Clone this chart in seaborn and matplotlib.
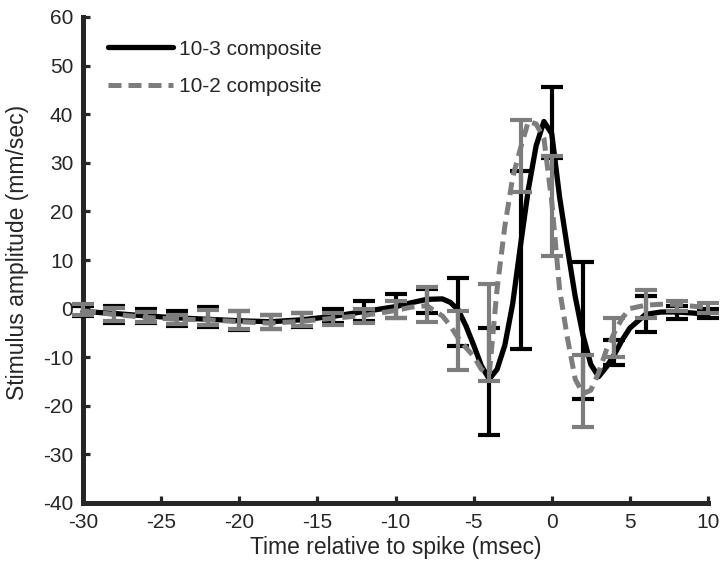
import numpy as np
import pandas as pd
import matplotlib
matplotlib.use("Agg")
import matplotlib.pyplot as plt
import seaborn as sns

# curve samples (ms, mm/sec)
t_curve = [-30, -28, -26, -24, -22, -20, -18, -16, -14, -12, -10, -9, -8, -7,
           -6.5, -6, -5.5, -5, -4.5, -4, -3.5, -3, -2.5, -2, -1.5, -1, -0.5,
           0, 0.5, 1, 1.5, 2, 2.5, 3, 3.5, 4, 4.5, 5, 6, 7, 8, 9, 10]
black_curve = [-0.6, -1.0, -1.5, -1.9, -2.2, -2.5, -2.7, -2.3, -1.6, -0.6, 0.4, 1.2, 1.9, 2.0,
               1.3, -0.2, -3.5, -7.5, -11.8, -14.5, -12.5, -7.5, 1.0, 13.0, 24.5, 33.5, 38.5,
               36.0, 23.0, 12.5, 2.5, -5.5, -11.5, -14.0, -12.0, -9.5, -6.5, -4.0, -1.2, -0.7, -0.7, -0.9, -1.2]
gray_curve = [-0.5, -1.2, -1.8, -2.2, -2.3, -2.7, -3.0, -2.6, -2.0, -1.4, -0.4, 0.3, 0.6, -1.5,
              -3.5, -6.0, -8.0, -9.8, -12.5, -13.5, 4.0, 17.0, 27.0, 33.0, 38.5, 38.0, 35.0,
              22.0, 4.0, -6.0, -14.5, -17.5, -16.8, -13.2, -8.5, -5.0, -2.0, 0.0, 0.7, 0.9, 0.9, 0.5, 0.2]

# error bars every 2 ms
t_bar = [-30, -28, -26, -24, -22, -20, -18, -16, -14, -12, -10, -8, -6, -4, -2, 0, 2, 4, 6, 8, 10]
black_mean = [-0.5, -1.2, -1.5, -2.0, -1.7, -2.5, -2.8, -2.4, -1.5, -0.5, 0.5, 1.5, -0.7, -15.0, 10.0, 38.2, -4.5, -9.1, -1.2, -0.8, -1.0]
black_err = [1.0, 1.8, 1.5, 1.5, 2.0, 2.0, 1.5, 1.4, 1.4, 2.0, 2.5, 2.5, 6.9, 11.0, 18.3, 7.3, 14.0, 2.6, 3.7, 1.3, 1.0]
gray_mean = [-0.2, -1.2, -1.8, -2.2, -1.8, -2.3, -2.7, -2.3, -2.1, -1.5, -0.2, 0.8, -6.5, -4.9, 31.4, 21.1, -17.0, -6.0, 0.9, 0.5, 0.1]
gray_err = [1.2, 1.3, 1.0, 0.9, 1.6, 1.9, 1.4, 1.3, 1.2, 1.5, 1.8, 3.6, 6.1, 10.0, 7.4, 10.2, 7.4, 4.0, 2.9, 1.0, 1.1]

labels = ["10-3 composite", "10-2 composite"]
GRAY = "#7d7d7d"

sns.set_style("ticks")
plt.rcParams["font.family"] = ["Liberation Sans", "DejaVu Sans"]
plt.rcParams["axes.unicode_minus"] = False

fig = plt.figure(figsize=(7.2, 5.74), dpi=100)
ax = fig.add_axes([83 / 720, 1 - 503 / 574, 625 / 720, 486 / 574])

df = pd.DataFrame({"t": t_curve, "black": black_curve, "gray": gray_curve})

sns.lineplot(data=df, x="t", y="black", color="black", lw=3.8, ax=ax,
             label=labels[0], clip_on=False, zorder=2)
ax.errorbar(t_bar, black_mean, yerr=black_err, fmt="none", ecolor="black",
            elinewidth=3, capsize=8, capthick=3, clip_on=False, zorder=3)
sns.lineplot(data=df, x="t", y="gray", color=GRAY, lw=3.6, ax=ax,
             linestyle=(0, (2.6, 1.4)), label=labels[1], clip_on=False, zorder=4)
ax.errorbar(t_bar, gray_mean, yerr=gray_err, fmt="none", ecolor=GRAY,
            elinewidth=3, capsize=8, capthick=3, clip_on=False, zorder=5)

ax.set_xlim(-30, 10)
ax.set_ylim(-40, 60)
ax.set_xticks(np.arange(-30, 11, 5))
ax.set_yticks(np.arange(-40, 61, 10))
sns.despine(ax=ax)
for s in ["left", "bottom"]:
    ax.spines[s].set_linewidth(3.6)
ax.tick_params(direction="in", length=5, width=2.3, labelsize=15, pad=7)

ax.set_xlabel("Time relative to spike (msec)", fontsize=16.5, labelpad=3)
ax.set_ylabel("Stimulus amplitude (mm/sec)", fontsize=16.5)
ax.yaxis.set_label_coords(-0.086, 0.516)

ax.legend(loc="upper left", bbox_to_anchor=(0.0104, 0.992), frameon=False,
          fontsize=15, handlelength=3.1, handletextpad=0.3, labelspacing=0.9)

fig.savefig("out.png", dpi=100)
